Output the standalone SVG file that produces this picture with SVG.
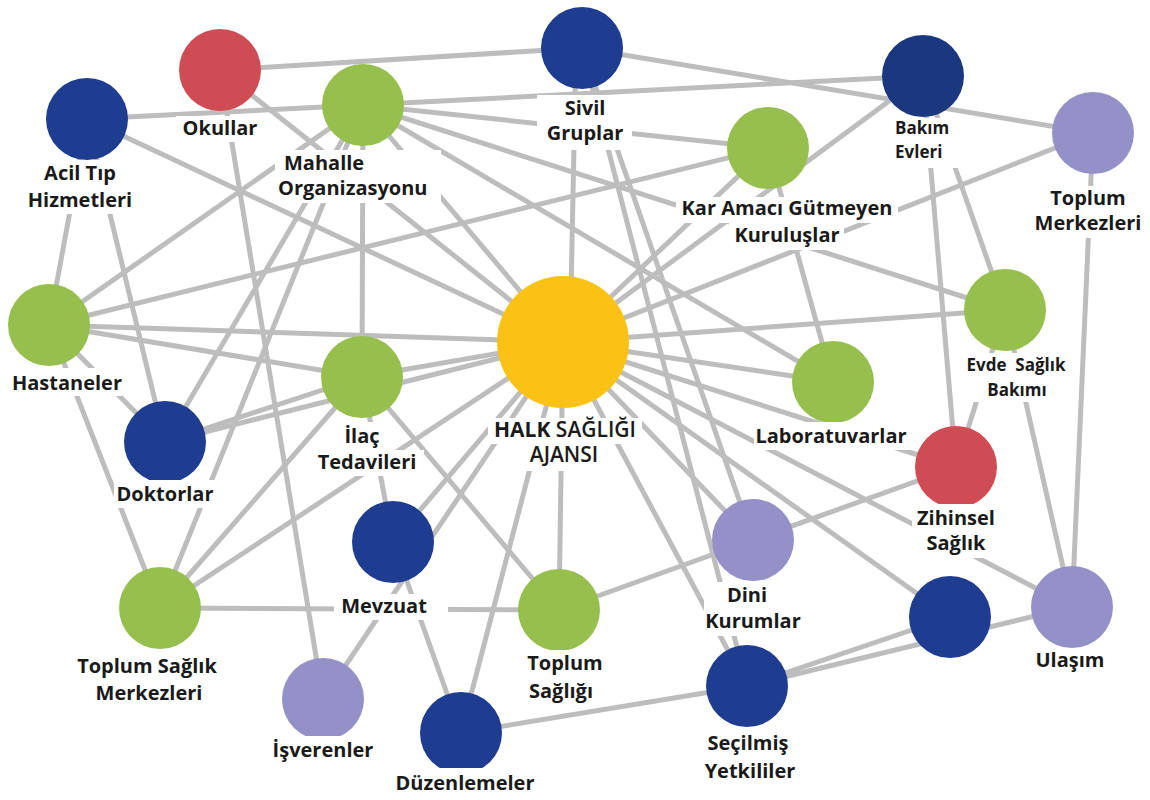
<svg xmlns="http://www.w3.org/2000/svg" width="1150" height="800" viewBox="0 0 1150 800">
<style>
.e line{stroke:#bdbdbd;stroke-width:5;stroke-linecap:butt}
.bg{fill:#ffffff}
.t{font-family:"Open Sans","DejaVu Sans",sans-serif;font-weight:700;font-size:20px;fill:#1a1a1a;text-anchor:middle}
.sm{font-size:17px}
.s{text-anchor:start}
.blue{fill:#1e3d91}
.dblue{fill:#1b3780}
.red{fill:#cf4c55}
.green{fill:#96bf4d}
.lav{fill:#9491c8}
.yel{fill:#fbc216}
</style>
<rect width="1150" height="800" fill="#ffffff"/>
<g id="connectors" class="e">
<line x1="220" y1="70" x2="582" y2="48"/>
<line x1="220" y1="70" x2="563" y2="342"/>
<line x1="220" y1="70" x2="323" y2="699"/>
<line x1="87" y1="119" x2="363" y2="105"/>
<line x1="87" y1="119" x2="563" y2="342"/>
<line x1="87" y1="119" x2="49" y2="325"/>
<line x1="87" y1="119" x2="165" y2="442"/>
<line x1="363" y1="105" x2="923" y2="76"/>
<line x1="363" y1="105" x2="49" y2="325"/>
<line x1="363" y1="105" x2="165" y2="442"/>
<line x1="363" y1="105" x2="160" y2="608"/>
<line x1="363" y1="105" x2="362" y2="377"/>
<line x1="363" y1="105" x2="768" y2="148"/>
<line x1="363" y1="105" x2="1005" y2="310"/>
<line x1="363" y1="105" x2="833" y2="382"/>
<line x1="363" y1="105" x2="563" y2="342"/>
<line x1="582" y1="48" x2="1093" y2="133"/>
<line x1="576" y1="48" x2="570" y2="342"/>
<line x1="582" y1="48" x2="747" y2="686"/>
<line x1="582" y1="48" x2="753" y2="540"/>
<line x1="768" y1="148" x2="49" y2="325"/>
<line x1="768" y1="148" x2="563" y2="342"/>
<line x1="768" y1="148" x2="833" y2="382"/>
<line x1="923" y1="76" x2="563" y2="342"/>
<line x1="923" y1="76" x2="956" y2="467"/>
<line x1="923" y1="76" x2="1005" y2="310"/>
<line x1="1093" y1="133" x2="563" y2="342"/>
<line x1="1093" y1="133" x2="1072" y2="607"/>
<line x1="49" y1="325" x2="563" y2="342"/>
<line x1="49" y1="325" x2="362" y2="377"/>
<line x1="49" y1="325" x2="165" y2="442"/>
<line x1="49" y1="325" x2="160" y2="608"/>
<line x1="165" y1="442" x2="362" y2="377"/>
<line x1="165" y1="442" x2="563" y2="342"/>
<line x1="362" y1="377" x2="563" y2="342"/>
<line x1="362" y1="377" x2="393" y2="542"/>
<line x1="362" y1="377" x2="559" y2="610"/>
<line x1="362" y1="377" x2="160" y2="608"/>
<line x1="160" y1="608" x2="559" y2="610"/>
<line x1="160" y1="608" x2="563" y2="342"/>
<line x1="563" y1="342" x2="1005" y2="310"/>
<line x1="563" y1="342" x2="833" y2="382"/>
<line x1="563" y1="342" x2="956" y2="467"/>
<line x1="563" y1="342" x2="1072" y2="607"/>
<line x1="563" y1="342" x2="950" y2="617"/>
<line x1="563" y1="342" x2="753" y2="540"/>
<line x1="563" y1="342" x2="747" y2="686"/>
<line x1="563" y1="342" x2="559" y2="610"/>
<line x1="563" y1="342" x2="461" y2="733"/>
<line x1="563" y1="342" x2="393" y2="542"/>
<line x1="563" y1="342" x2="323" y2="699"/>
<line x1="1005" y1="310" x2="1072" y2="607"/>
<line x1="1005" y1="310" x2="956" y2="467"/>
<line x1="753" y1="540" x2="956" y2="467"/>
<line x1="753" y1="540" x2="559" y2="610"/>
<line x1="393" y1="542" x2="461" y2="733"/>
<line x1="461" y1="733" x2="747" y2="686"/>
<line x1="747" y1="686" x2="950" y2="617"/>
<line x1="747" y1="686" x2="1072" y2="607"/>
</g>
<g id="okullar"><circle class="red" cx="220" cy="70" r="41"/><rect class="bg" x="176" y="116" width="82" height="26"/><text class="t" x="220" y="135">Okullar</text></g>
<g id="acil"><circle class="blue" cx="87" cy="119" r="41"/><rect class="bg" x="24" y="160" width="112" height="54"/><text class="t" x="80" y="180">Acil Tıp</text><text class="t" x="80" y="207">Hizmetleri</text></g>
<g id="mahalle"><circle class="green" cx="363" cy="105" r="41"/><rect class="bg" x="275" y="150" width="166" height="53"/><text class="t s" x="284" y="170">Mahalle</text><text class="t s" x="278" y="195">Organizasyonu</text></g>
<g id="sivil"><circle class="blue" cx="582" cy="48" r="41"/><rect class="bg" x="537" y="95" width="95" height="55"/><text class="t" x="585" y="115">Sivil</text><text class="t" x="585" y="140">Gruplar</text></g>
<g id="bakim"><circle class="dblue" cx="923" cy="76" r="41"/><rect class="bg" x="890" y="118" width="88" height="50"/><text class="t sm s" x="895" y="134">Bakım</text><text class="t sm s" x="895" y="158">Evleri</text></g>
<g id="kar"><circle class="green" cx="768" cy="148" r="41"/><rect class="bg" x="676" y="197" width="222" height="26"/><rect class="bg" x="729" y="223" width="115" height="27"/><text class="t" x="787" y="215">Kar Amacı Gütmeyen</text><text class="t" x="787" y="242">Kuruluşlar</text></g>
<g id="toplum-merkezleri"><circle class="lav" cx="1093" cy="133" r="41"/><rect class="bg" x="1034" y="186" width="110" height="52"/><text class="t" x="1088" y="205">Toplum</text><text class="t" x="1088" y="230">Merkezleri</text></g>
<g id="hastaneler"><circle class="green" cx="49" cy="325" r="41"/><rect class="bg" x="12" y="368" width="110" height="28"/><text class="t" x="67" y="390">Hastaneler</text></g>
<g id="doktorlar"><circle class="blue" cx="165" cy="442" r="41"/><rect class="bg" x="114" y="480" width="102" height="28"/><text class="t" x="165" y="501">Doktorlar</text></g>
<g id="ilac"><circle class="green" cx="362" cy="377" r="41"/><rect class="bg" x="327" y="422" width="56" height="28"/><rect class="bg" x="312" y="450" width="112" height="26"/><text class="t" x="362" y="443">İlaç</text><text class="t" x="367" y="469">Tedavileri</text></g>
<g id="halk"><circle class="yel" cx="563" cy="342" r="66"/><rect class="bg" x="488" y="418" width="154" height="26"/><rect class="bg" x="523" y="443" width="82" height="28"/><text class="t" x="565" y="437" style="font-size:21px"><tspan font-weight="700">HALK</tspan><tspan font-weight="600"> SAĞLIĞI</tspan></text><text class="t" x="564" y="462" style="font-size:21px;font-weight:600">AJANSI</text></g>
<g id="laboratuvarlar"><circle class="green" cx="833" cy="382" r="41"/><rect class="bg" x="754" y="422" width="156" height="28"/><text class="t" x="831" y="443">Laboratuvarlar</text></g>
<g id="evde"><circle class="green" cx="1005" cy="310" r="41"/><rect class="bg" x="956" y="353" width="121" height="49"/><text class="t sm" x="1016" y="371" xml:space="preserve">Evde  Sağlık</text><text class="t sm" x="1017" y="396">Bakımı</text></g>
<g id="zihinsel"><circle class="red" cx="956" cy="467" r="41"/><rect class="bg" x="912" y="504" width="88" height="54"/><text class="t" x="956" y="525">Zihinsel</text><text class="t" x="956" y="550">Sağlık</text></g>
<g id="mevzuat"><circle class="blue" cx="393" cy="542" r="41"/><rect class="bg" x="334" y="594" width="114" height="26"/><text class="t" x="384" y="613">Mevzuat</text></g>
<g id="dini"><circle class="lav" cx="753" cy="540" r="41"/><rect class="bg" x="704" y="582" width="98" height="54"/><text class="t" x="747" y="602">Dini</text><text class="t" x="753" y="628">Kurumlar</text></g>
<g id="toplum-saglik-merkezleri"><circle class="green" cx="160" cy="608" r="41"/><rect class="bg" x="74" y="652" width="146" height="55"/><text class="t" x="147" y="673">Toplum Sağlık</text><text class="t" x="149" y="700">Merkezleri</text></g>
<g id="isverenler"><circle class="lav" cx="323" cy="699" r="41"/><rect class="bg" x="268" y="736" width="110" height="28"/><text class="t" x="323" y="757">İşverenler</text></g>
<g id="toplum-sagligi"><circle class="green" cx="559" cy="610" r="41"/><rect class="bg" x="526" y="650" width="78" height="55"/><text class="t" x="565" y="670">Toplum</text><text class="t" x="561" y="698">Sağlığı</text></g>
<g id="duzenlemeler"><circle class="blue" cx="461" cy="733" r="41"/><rect class="bg" x="391" y="768" width="148" height="28"/><text class="t" x="465" y="790">Düzenlemeler</text></g>
<g id="secilmis"><circle class="blue" cx="747" cy="686" r="41"/><rect class="bg" x="701" y="728" width="98" height="56"/><text class="t" x="748" y="750">Seçilmiş</text><text class="t" x="750" y="778">Yetkililer</text></g>
<g id="unlabeled"><circle class="blue" cx="950" cy="617" r="41"/><rect class="bg" x="928" y="659" width="40" height="16"/></g>
<g id="ulasim"><circle class="lav" cx="1072" cy="607" r="41"/><rect class="bg" x="1034" y="648" width="72" height="26"/><text class="t" x="1070" y="667">Ulaşım</text></g>
</svg>
